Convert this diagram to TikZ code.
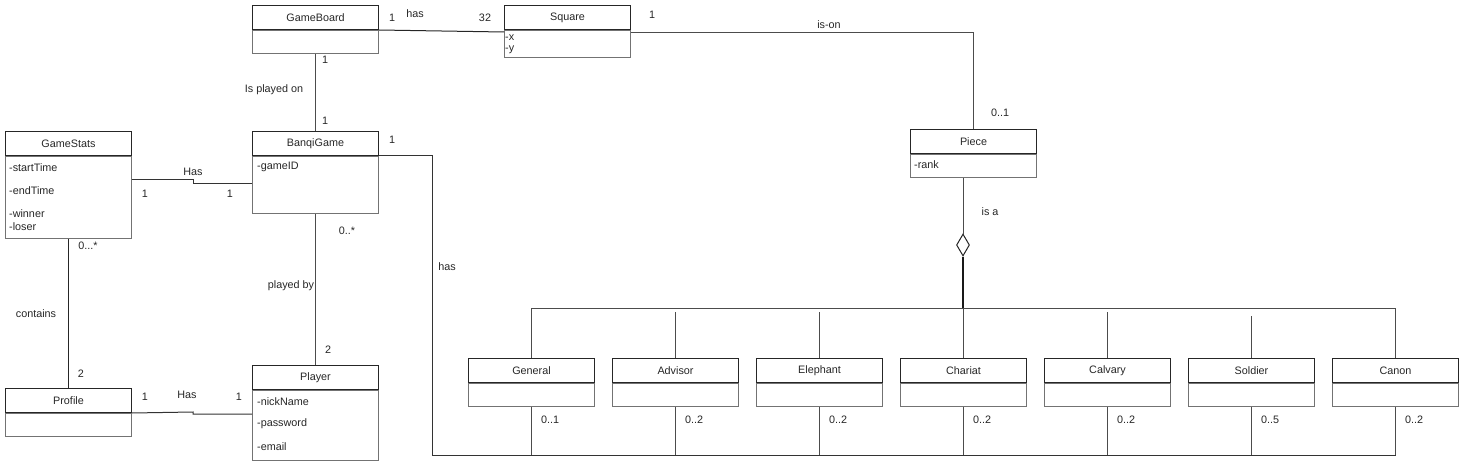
\documentclass[tikz,border=0pt]{standalone}
\usepackage{fontspec}
\setmainfont{Liberation Sans}
\usetikzlibrary{shapes.geometric}
\tikzset{
  base/.style={font=\fontsize{10.8}{13}\selectfont, text=black!85},
  hdr/.style={base, draw=black!85, line width=1pt, inner sep=0pt, minimum height=24pt, minimum width=126pt, anchor=north west},
  bdy/.style={draw=black!55, line width=1pt, inner sep=0pt, minimum width=126pt, anchor=north},
  lbl/.style={base, inner sep=0pt},
  attr/.style={base, inner sep=0pt, anchor=west},
  conn/.style={draw=black!70, line width=1pt},
}
\begin{document}
\begin{tikzpicture}[x=1pt,y=-1pt]
\useasboundingbox (0,0) rectangle (1465,468);

% ---------- classes ----------
\node[hdr] (gb) at (252,5) {GameBoard};
\node[bdy, minimum height=23pt] (gb-b) at (gb.south) {};

\node[hdr] (sq) at (504,5) {Square};
\node[bdy, minimum height=27pt] (sq-b) at (sq.south) {};
\node[attr] (sq-x) at (505,37.5) {-x};
\node[attr] (sq-y) at (505,49.5) {-y};

\node[hdr] (bg) at (252,131) {BanqiGame};
\node[bdy, minimum height=57pt] (bg-b) at (bg.south) {};
\node[attr] (bg-id) at (257,167) {-gameID};

\node[hdr] (gs) at (5,131) {GameStats};
\node[bdy, minimum height=82pt] (gs-b) at (gs.south) {};
\node[attr] (gs-st) at (9,168) {-startTime};
\node[attr] (gs-et) at (9,191) {-endTime};
\node[attr] (gs-w) at (9,214) {-winner};
\node[attr] (gs-l) at (9,227) {-loser};

\node[hdr] (pc) at (910,129) {Piece};
\node[bdy, minimum height=23pt] (pc-b) at (pc.south) {};
\node[attr] (pc-r) at (914,165) {-rank};

\node[hdr] (pf) at (5,388) {Profile};
\node[bdy, minimum height=23pt] (pf-b) at (pf.south) {};

\node[hdr] (pl) at (252,365) {Player};
\node[bdy, minimum height=70pt] (pl-b) at (pl.south) {};
\node[attr] (pl-n) at (257,402) {-nickName};
\node[attr] (pl-p) at (257,424) {-password};
\node[attr] (pl-e) at (257,447) {-email};

\foreach \n/\t/\m [count=\i from 0] in {gen/General/0..1, adv/Advisor/0..2, ele/Elephant/0..2, cha/Chariat/0..2, cal/Calvary/0..2, sol/Soldier/0..5, can/Canon/0..2}{
  \node[hdr] (\n) at (468+144*\i,358) {\t};
  \node[bdy, minimum height=23pt] (\n-b) at (\n.south) {};
  \node[lbl, anchor=west] (\n-m) at (541+144*\i,420) {\m};
}

% ---------- connectors ----------
% GameBoard -- Square
\draw[conn, draw=black!85] (gb.south east) -- ([yshift=-2pt]sq.south west);
\node[lbl] (l-gb1) at (392,18) {1};
\node[lbl] (l-has1) at (415,14) {has};
\node[lbl] (l-32) at (485,18) {32};

% Square -- Piece
\draw[conn] ([yshift=-3pt]sq.south east) -| (pc.north);
\node[lbl] (l-sq1) at (652,15) {1};
\node[lbl] (l-ison) at (829,25) {is-on};
\node[lbl] (l-pc01) at (1000,113) {0..1};

% GameBoard -- BanqiGame
\draw[conn] (gb-b.south) -- (bg.north);
\node[lbl] (l-gb2) at (325,60) {1};
\node[lbl] (l-ipo) at (274,90) {Is played on};
\node[lbl] (l-bg1) at (325,121) {1};

% GameStats -- BanqiGame
\coordinate (hasA) at (193,180);
\coordinate (hasB) at (193,184);
\draw[conn, draw=black!80] (gs-b.east |- hasA) -- (hasA) -- (hasB) -- (bg-b.west |- hasB);
\node[lbl] (l-has2) at (193,172) {Has};
\node[lbl] (l-gs1) at (145,194) {1};
\node[lbl] (l-bg2) at (230,194) {1};

% BanqiGame -- Player
\draw[conn] (bg-b.south) -- (pl.north);
\node[lbl] (l-0s) at (347,231) {0..*};
\node[lbl] (l-pb) at (291,286) {played by};
\node[lbl] (l-2a) at (328,350) {2};

% GameStats -- Profile
\draw[conn, draw=black!85] (gs-b.south) -- (pf.north);
\node[lbl] (l-0s3) at (88,246) {0...*};
\node[lbl] (l-cont) at (36,314) {contains};
\node[lbl] (l-2b) at (81,374) {2};

% Profile -- Player
\coordinate (pA) at (193,412);
\coordinate (pB) at (193,414);
\draw[conn, draw=black!80] (pf.south east) -- (pA) -- (pB) -- (pl-b.west |- pB);
\node[lbl] (l-pf1) at (145,397) {1};
\node[lbl] (l-has3) at (187,395) {Has};
\node[lbl] (l-pl1) at (239,397) {1};

% BanqiGame -- pieces (has)
\coordinate (hasC) at (432,455);
\draw[conn, draw=black!80] (bg.south east) -| (hasC) -- (can-b.south |- hasC);
\node[lbl] (l-bg3) at (392,140) {1};
\node[lbl] (l-has4) at (447,267) {has};
\foreach \n in {gen,adv,ele,cha,cal,sol,can}{
  \draw[conn] (\n-b.south) -- (\n-b.south |- hasC);
}

% Piece -- aggregation diamond -- subclasses
\node[diamond, draw=black!85, line width=1pt, minimum width=13pt, minimum height=22pt, inner sep=0pt, fill=white] (dia) at (963,245) {};
\coordinate (pcbot) at (963,178);
\draw[conn] (pcbot) -- (dia.north);
\node[lbl] (l-isa) at (990,212) {is a};
\coordinate (bar) at (963,308);
\draw[conn, line width=1.8pt, draw=black!90] (dia.south) -- (bar);
\draw[conn] (gen.north |- bar) -- (can.north |- bar);
\foreach \n in {gen,cha,can}{
  \draw[conn] (\n.north |- bar) -- (\n.north);
}
\coordinate (bar2) at (0,312);
\coordinate (bar3) at (0,316);
\foreach \n in {adv,ele,cal}{
  \draw[conn] (\n.north |- bar2) -- (\n.north);
}
\draw[conn] (sol.north |- bar3) -- (sol.north);
\end{tikzpicture}
\end{document}
